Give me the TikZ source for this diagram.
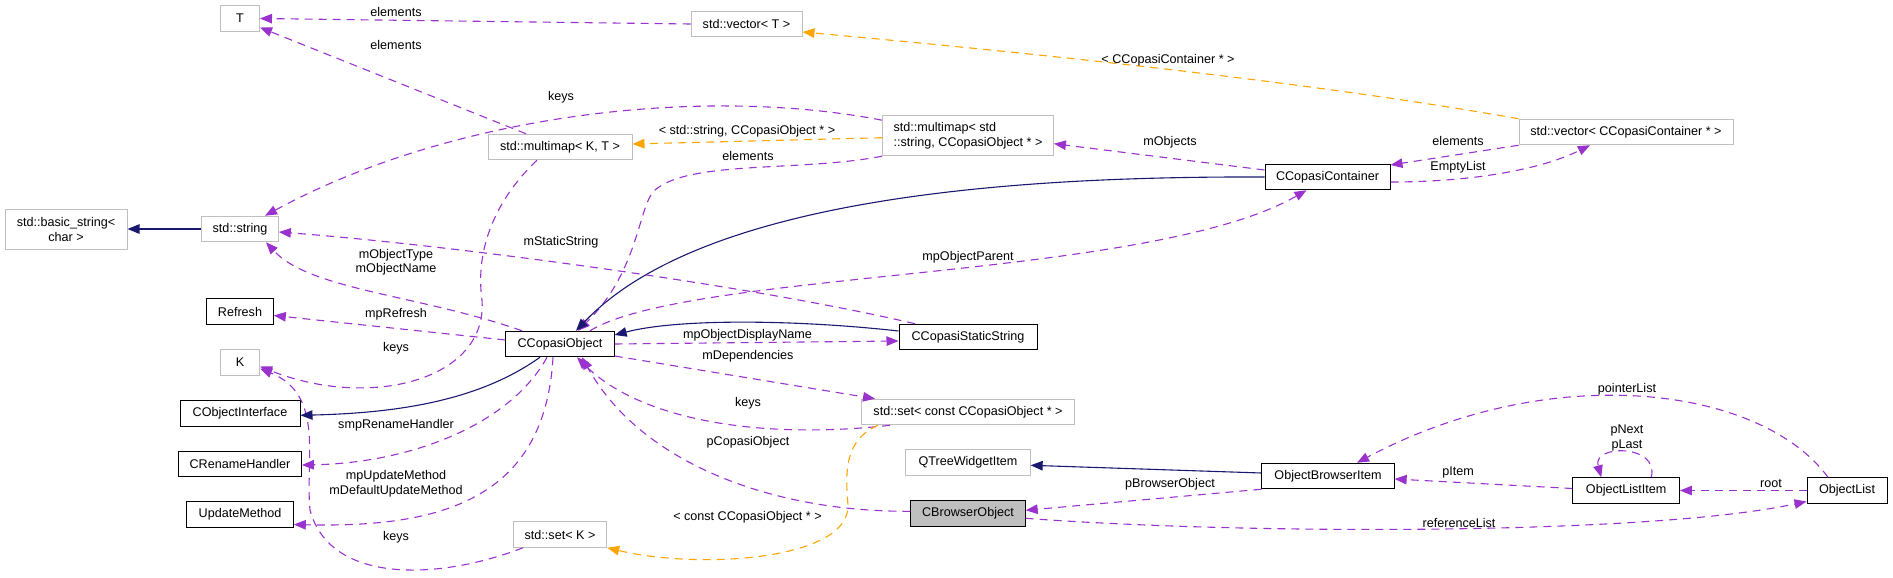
\documentclass[tikz,border=0pt]{standalone}
\usepackage{fontspec}
\setmainfont{Liberation Sans}
\usetikzlibrary{arrows.meta}
\definecolor{usecol}{HTML}{9A32CD}
\definecolor{tplcol}{HTML}{FFA500}
\definecolor{inhcol}{HTML}{191970}
\definecolor{boxgrey}{HTML}{BFBFBF}
\tikzset{
  cls/.style={draw, line width=1pt, minimum height=25.5pt, inner xsep=11pt, inner ysep=0pt,
              font=\fontsize{12.6}{15}\selectfont},
  ext/.style={cls, draw=boxgrey},
  cur/.style={cls, fill=boxgrey},
  two/.style={minimum height=40pt},
  lbl/.style={inner sep=0pt, align=center, font=\fontsize{12.6}{14.5}\selectfont},
  tip/.style={-{Stealth[length=12pt, width=9.5pt, inset=0pt]}, line width=1.1pt},
  use/.style={tip, usecol, dash pattern=on 8pt off 6pt},
  tpl/.style={tip, tplcol, dash pattern=on 8pt off 6pt},
  inh/.style={tip, inhcol}
}
\begin{document}
\begin{tikzpicture}[x=1pt, y=-1pt]
\useasboundingbox (0,0) rectangle (1893,578);
\node[ext, minimum width=39pt] (tt) at (240,18.5) {T};
\node[ext, minimum width=111pt] (vt) at (746.5,24) {std::vector< T >};
\node[ext, minimum width=144pt] (mmkt) at (560,147) {std::multimap< K, T >};
\node[ext, two, minimum width=170.4pt, align=left] (mmstr) at (968,135.7) {std::multimap< std\\::string, CCopasiObject * >};
\node[ext, minimum width=214pt] (vcc) at (1626,132) {std::vector< CCopasiContainer * >};
\node[cls, minimum width=125pt] (cont) at (1327.5,177) {CCopasiContainer};
\node[ext, two, minimum width=122pt, align=center] (bstr) at (66,229) {std::basic\_string<\\char >};
\node[ext, minimum width=76.4pt] (str) at (240,229) {std::string};
\node[cls, minimum width=66.6pt] (refr) at (240,311.5) {Refresh};
\node[cls, minimum width=108.3pt] (cobj) at (560,344) {CCopasiObject};
\node[cls, minimum width=138pt] (css) at (968,337) {CCopasiStaticString};
\node[ext, minimum width=39pt] (kk) at (240,362.5) {K};
\node[cls, minimum width=120pt] (coi) at (240,413.3) {CObjectInterface};
\node[ext, minimum width=212.3pt] (setc) at (968,412) {std::set< const CCopasiObject * >};
\node[ext, minimum width=124.3pt] (qtw) at (968,462.3) {QTreeWidgetItem};
\node[cls, minimum width=122.6pt] (crh) at (240,464) {CRenameHandler};
\node[cls, minimum width=132.3pt] (obi) at (1328,476) {ObjectBrowserItem};
\node[cls, minimum width=106.5pt] (oli) at (1626.2,490.5) {ObjectListItem};
\node[cls, minimum width=80pt] (olist) at (1847,490.5) {ObjectList};
\node[cls, minimum width=106.6pt] (upm) at (240,514.5) {UpdateMethod};
\node[cur, minimum width=114.3pt] (cbo) at (968,513.3) {CBrowserObject};
\node[ext, minimum width=93.4pt] (setk) at (560,534.5) {std::set< K >};
\draw[use] (vt.west) -- (tt.east);
\draw[use] ([xshift=-34pt]mmkt.north) -- ([yshift=-9pt]tt.east);
\draw[use] ([yshift=-5pt]mmstr.north west) .. controls (700,85) and (450,115) .. ([xshift=25pt]str.north);
\draw[tpl] ([yshift=-2pt]mmstr.west) -- ([yshift=3pt]mmkt.east);
\draw[use] (mmstr.south west) .. controls (800,172) and (690,160) .. (655,190) .. controls (638,205) and (640,270) .. ([xshift=18pt]cobj.north);
\draw[use] ([yshift=7pt]cont.west) -- ([yshift=-8pt]mmstr.east);
\draw[inh] (cont.west) .. controls (1000,176) and (700,200) .. ([xshift=16pt]cobj.north);
\draw[use] ([xshift=30pt]cobj.north) .. controls (690,270) and (1150,280) .. ([xshift=-21pt]cont.south);
\draw[tpl] (vcc.north west) .. controls (1300,80) and (1000,50) .. ([yshift=-8pt]vt.east);
\draw[use] (vcc.south west) -- ([yshift=12pt]cont.east);
\draw[use] ([yshift=-5pt]cont.east) .. controls (1470,182) and (1540,170) .. ([xshift=-36pt]vcc.south);
\draw[inh] (str.west) -- (bstr.east);
\draw[use] ([xshift=-38pt]cobj.north) .. controls (420,295) and (310,290) .. ([xshift=26pt]str.south);
\draw[use] ([xshift=-53pt]css.north) .. controls (750,285) and (450,245) .. ([yshift=-3pt]str.east);
\draw[inh] ([yshift=6pt]css.west) .. controls (800,320) and (680,318) .. ([yshift=9pt]cobj.east);
\draw[use] (cobj.east) -- ([yshift=-4pt]css.west);
\draw[use] ([yshift=4pt]cobj.west) -- ([yshift=-4pt]refr.east);
\draw[use] ([xshift=-23pt]mmkt.south) .. controls (495,200) and (475,250) .. (482,300) .. controls (488,380) and (370,410) .. ([yshift=-4pt]kk.east);
\draw[use] ([xshift=-37pt]setk.south) .. controls (440,580) and (330,585) .. (310,510) .. controls (305,460) and (325,395) .. ([yshift=-6pt]kk.east);
\draw[inh] ([xshift=-20pt]cobj.south) .. controls (480,400) and (400,413) .. ([yshift=-2pt]coi.east);
\draw[use] ([xshift=-13pt]cobj.south) .. controls (510,425) and (410,463) .. ([yshift=-1pt]crh.east);
\draw[use] ([xshift=-7pt]cobj.south) .. controls (545,500) and (440,528) .. ([yshift=-10pt]upm.east);
\draw[use] ([yshift=-12pt]cobj.east) -- ([xshift=-93pt]setc.north);
\draw[use] ([xshift=-78pt]setc.south) .. controls (760,440) and (640,420) .. ([xshift=17pt]cobj.south);
\draw[use] ([yshift=2pt]cbo.west) .. controls (770,512) and (640,462) .. ([xshift=22pt]cobj.south);
\draw[tpl] ([xshift=-90pt]setc.south) .. controls (845,440) and (845,470) .. (848,505) .. controls (850,560) and (700,570) .. (setk.south east);
\draw[inh] ([yshift=3pt]obi.west) -- ([yshift=-3pt]qtw.east);
\draw[use] (obi.south west) -- ([yshift=3pt]cbo.east);
\draw[use] ([yshift=-5pt]cbo.east) .. controls (1250,535) and (1650,535) .. ([yshift=-11pt]olist.west);
\draw[use] ([yshift=2pt]oli.west) -- ([yshift=-3pt]obi.east);
\draw[use] ([xshift=-19pt]olist.north) .. controls (1760,385) and (1550,360) .. ([xshift=29pt]obi.north);
\draw[use] (olist.west) -- (oli.east);
\draw[use] ([xshift=25pt]oli.north) .. controls (1660,444) and (1592,444) .. ([xshift=-25pt]oli.north);
\node[lbl] (l1) at (396,12) {elements};
\node[lbl] (l2) at (396,44.7) {elements};
\node[lbl] (l3) at (561,97) {keys};
\node[lbl] (l4) at (747,131) {< std::string, CCopasiObject * >};
\node[lbl] (l5) at (748,156) {elements};
\node[lbl] (l6) at (1170,142.5) {mObjects};
\node[lbl] (l7) at (1168,60) {< CCopasiContainer * >};
\node[lbl] (l8) at (1458,141) {elements};
\node[lbl] (l9) at (1458,167.5) {EmptyList};
\node[lbl] (l10) at (968,257.5) {mpObjectParent};
\node[lbl] (l11) at (561,242.5) {mStaticString};
\node[lbl] (l12) at (396,262) {mObjectType\\mObjectName};
\node[lbl] (l13) at (396,314.7) {mpRefresh};
\node[lbl] (l14) at (396,348) {keys};
\node[lbl] (l15) at (396,425) {smpRenameHandler};
\node[lbl] (l16) at (396,483.5) {mpUpdateMethod\\mDefaultUpdateMethod};
\node[lbl] (l17) at (396,537) {keys};
\node[lbl] (l18) at (747.5,335) {mpObjectDisplayName};
\node[lbl] (l19) at (748,356.5) {mDependencies};
\node[lbl] (l20) at (748,403.5) {keys};
\node[lbl] (l21) at (748,442.5) {pCopasiObject};
\node[lbl] (l22) at (747.5,517) {< const CCopasiObject * >};
\node[lbl] (l23) at (1170,484) {pBrowserObject};
\node[lbl] (l24) at (1458,472) {pItem};
\node[lbl] (l25) at (1459,522.5) {referenceList};
\node[lbl] (l26) at (1627,389) {pointerList};
\node[lbl] (l27) at (1627,438) {pNext\\pLast};
\node[lbl] (l28) at (1771,483) {root};
\end{tikzpicture}
\end{document}
